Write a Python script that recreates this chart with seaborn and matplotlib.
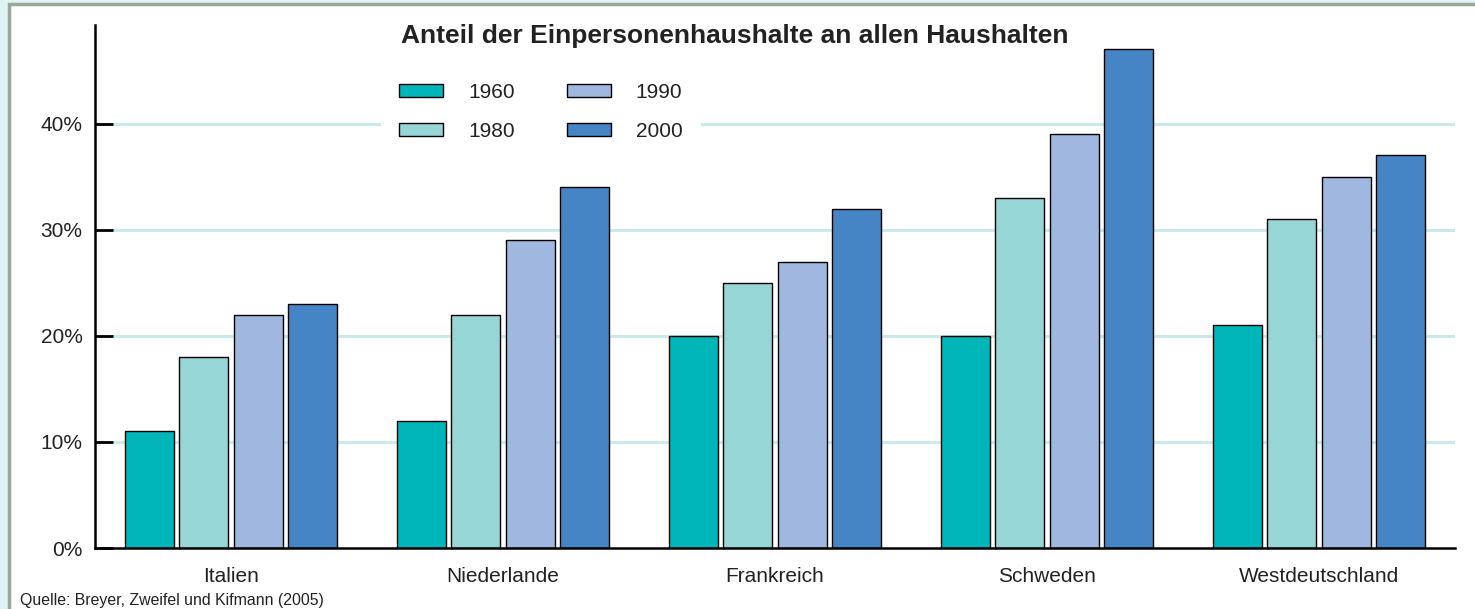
import matplotlib
matplotlib.use("Agg")
import matplotlib.pyplot as plt
from matplotlib.patches import Rectangle
import pandas as pd
import seaborn as sns

# Daten
countries = ["Italien", "Niederlande", "Frankreich", "Schweden", "Westdeutschland"]
years = ["1960", "1980", "1990", "2000"]
share_1960 = [11, 12, 20, 20, 21]
share_1980 = [18, 22, 25, 33, 31]
share_1990 = [22, 29, 27, 39, 35]
share_2000 = [23, 34, 32, 47, 37]
colors = ["#00b6b9", "#96d6d7", "#a0b8e0", "#4585c6"]
y_ticks = [0, 10, 20, 30, 40]
y_ticklabels = ["0%", "10%", "20%", "30%", "40%"]

rows = []
for year, vals in zip(years, [share_1960, share_1980, share_1990, share_2000]):
    for c, v in zip(countries, vals):
        rows.append({"Land": c, "Jahr": year, "Anteil": v})
df = pd.DataFrame(rows)

sns.set_style("white")
plt.rcParams["font.family"] = ["Liberation Sans", "DejaVu Sans"]

fig = plt.figure(figsize=(14.75, 6.09), dpi=100)
fig.patch.set_facecolor("#e0f3f3")
# weisses Feld mit grauem Rahmen
fig.patches.append(Rectangle((9 / 1475, -0.05), 1.1, 1.05 - 3.5 / 609,
                             transform=fig.transFigure, facecolor="white",
                             edgecolor="#9aa89c", linewidth=2.5, zorder=-10))

ax = fig.add_axes([95 / 1475, 61 / 609, 1360 / 1475, 523 / 609])
ax.set_zorder(1)
ax.set_facecolor("none")
ax.set_axisbelow(False)

sns.barplot(data=df, x="Land", y="Anteil", hue="Jahr", hue_order=years,
            palette=colors, gap=0.1, edgecolor="black", linewidth=1,
            saturation=1, ax=ax, zorder=3)

ax.set_xlim(-0.5, 4.5)
ax.set_ylim(0, 49.3)
ax.set_yticks(y_ticks)
ax.set_yticklabels(y_ticklabels)
ax.set_xlabel("")
ax.set_ylabel("")

for y in y_ticks[1:]:
    ax.axhline(y, color="#c9e9eb", linewidth=2.2, zorder=1)

for s in ["top", "right"]:
    ax.spines[s].set_visible(False)
ax.spines["left"].set_linewidth(1.8)
ax.spines["bottom"].set_linewidth(1.8)
ax.spines["left"].set_color("black")
ax.spines["bottom"].set_color("black")
ax.spines["left"].set_zorder(5)
ax.spines["bottom"].set_zorder(5)

ax.tick_params(axis="y", left=True, direction="in", length=13, width=2,
               color="black", labelsize=15, pad=9, labelcolor="#222222")
ax.tick_params(axis="x", bottom=False, length=0, labelsize=15, pad=14,
               labelcolor="#222222")

handles, labels = ax.get_legend_handles_labels()
leg = ax.legend(handles, labels, ncol=2, loc="upper left",
                bbox_to_anchor=(0.21, 0.925), borderaxespad=0,
                fontsize=15, frameon=True, handlelength=2.1,
                handleheight=0.55, handletextpad=1.2, columnspacing=2.5,
                labelspacing=0.95, borderpad=0.9)
leg.get_frame().set_facecolor("white")
leg.get_frame().set_edgecolor("none")
leg.get_frame().set_alpha(1)
leg.set_zorder(4)
for t in leg.get_texts():
    t.set_color("#222222")

fig.text(735 / 1475, 1 - 36 / 609, "Anteil der Einpersonenhaushalte an allen Haushalten",
         ha="center", va="center", fontsize=19, fontweight="bold", color="#222222")
fig.text(20 / 1475, 1 - 601 / 609, "Quelle: Breyer, Zweifel und Kifmann (2005)",
         ha="left", va="center", fontsize=11.4, color="#222222")

fig.savefig("out.png", dpi=100, facecolor=fig.get_facecolor())
